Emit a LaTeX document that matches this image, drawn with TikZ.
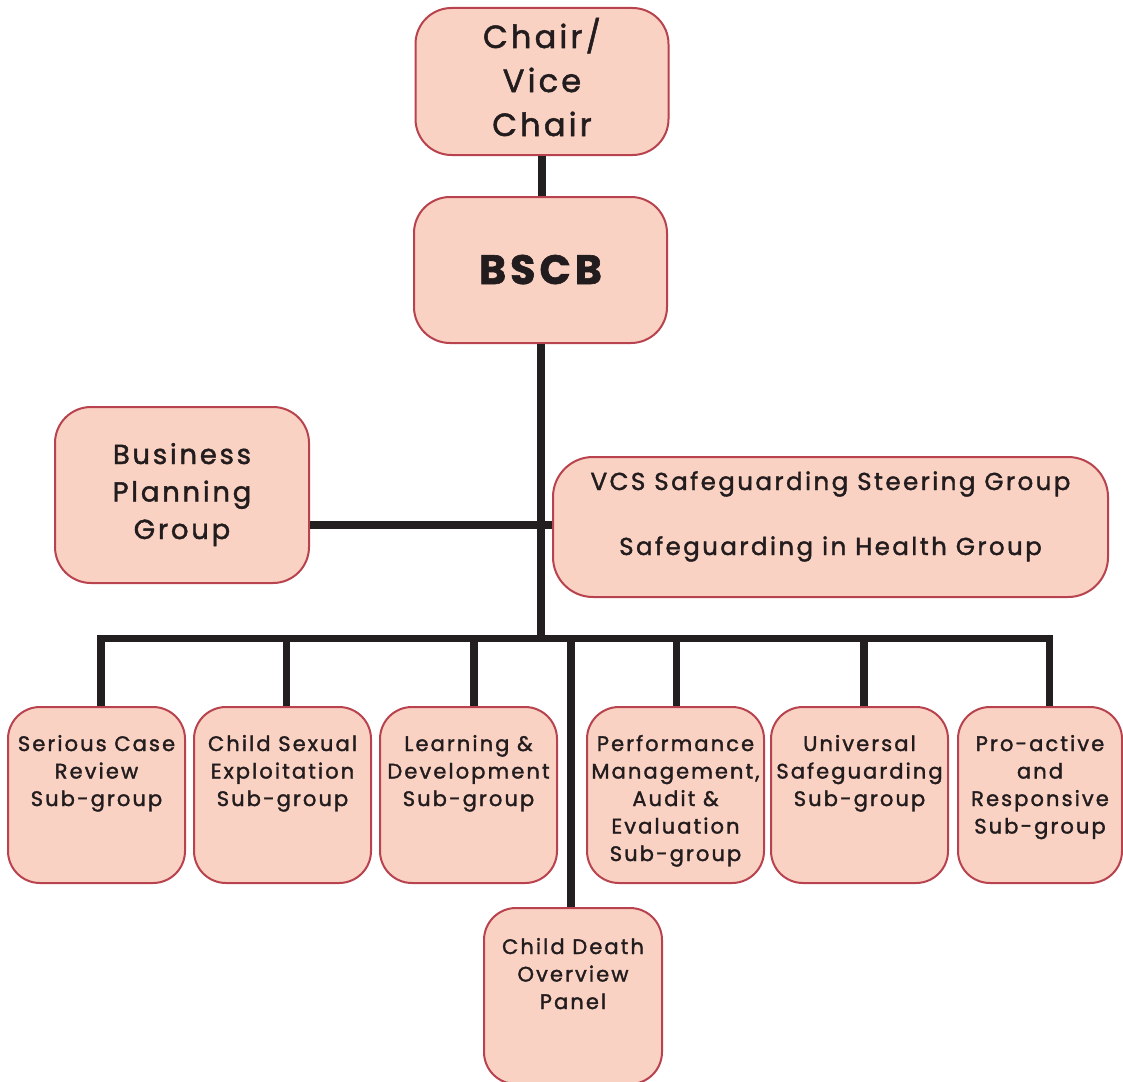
\documentclass[tikz,border=0pt]{standalone}
\usepackage{fontspec}
\setmainfont{Poppins}[LetterSpace=10,FakeBold=1.6]
\definecolor{boxfill}{RGB}{250,210,195}
\definecolor{boxline}{RGB}{184,66,78}
\definecolor{wirecol}{RGB}{35,31,32}
\definecolor{ink}{RGB}{34,28,30}

% text block of a box: width, height, first baseline, font size, line skip, lines
\newcommand\boxtext[6]{\parbox[c][#2][t]{#1}{\centering\fontsize{#4}{#5}\selectfont\rule{0pt}{#3}#6}}

\tikzset{
  orgbox/.style={draw=boxline, fill=boxfill, line width=2pt, rounded corners=#1,
                 inner sep=0pt, text=ink},
  orgbox/.default=34pt,
  wire/.style={draw=wirecol, line width=7.5pt, line join=miter}
}

\begin{document}
\begin{tikzpicture}[x=1pt,y=-1pt]
  \clip (0,0) rectangle (1123,1081);
  \fill[white] (0,0) rectangle (1123,1081);

  % top of the hierarchy
  \node[orgbox=36pt] (chair) at (542,81.5)
    {\boxtext{253pt}{147pt}{40pt}{32pt}{44pt}{Chair/\\Vice\\Chair}};
  \node[orgbox=36pt] (bscb) at (540.5,270)
    {\boxtext{253pt}{146pt}{87pt}{41pt}{44pt}{\bfseries BSCB}};

  % side groups
  \node[orgbox=36pt] (bpg) at (182,495)
    {\boxtext{254pt}{176pt}{57pt}{27.5pt}{37.5pt}{Business\\Planning\\Group}};
  \node[orgbox=40pt] (vcs) at (830.5,527)
    {\boxtext{555pt}{140pt}{33pt}{24.5pt}{65pt}{VCS Safeguarding Steering Group\\Safeguarding in Health Group}};

  % sub-groups
  \node[orgbox=32pt] (scr) at (96.5,795)
    {\boxtext{177pt}{176pt}{44pt}{21pt}{27.5pt}{Serious Case\\Review\\Sub-group}};
  \node[orgbox=32pt] (cse) at (282.5,795)
    {\boxtext{177pt}{176pt}{44pt}{21pt}{27.5pt}{Child Sexual\\Exploitation\\Sub-group}};
  \node[orgbox=32pt] (ld) at (468.5,795)
    {\boxtext{177pt}{176pt}{44pt}{21pt}{27.5pt}{Learning \&\\Development\\Sub-group}};
  \node[orgbox=32pt] (pma) at (675.5,795)
    {\boxtext{177pt}{176pt}{44pt}{21pt}{27.5pt}{Performance\\Management,\\Audit \&\\Evaluation\\Sub-group}};
  \node[orgbox=32pt] (us) at (859.5,795)
    {\boxtext{177pt}{176pt}{44pt}{21pt}{27.5pt}{Universal\\Safeguarding\\Sub-group}};
  \node[orgbox=32pt] (par) at (1040,795)
    {\boxtext{164pt}{176pt}{44pt}{21pt}{27.5pt}{Pro-active\\and\\Responsive\\Sub-group}};
  \node[orgbox=32pt] (cdop) at (573,996)
    {\boxtext{178pt}{176pt}{46pt}{21pt}{27.5pt}{Child Death\\Overview\\Panel}};

  % junction points
  \coordinate (hub) at (541,638.5);
  \coordinate (mid) at (541,525);
  \coordinate (t1) at (101,638.5);
  \coordinate (t2) at (286.5,638.5);
  \coordinate (t3) at (474,638.5);
  \coordinate (t4) at (571,638.5);
  \coordinate (t5) at (676.5,638.5);
  \coordinate (t6) at (864,638.5);
  \coordinate (t7) at (1049.5,638.5);

  % connectors
  \draw[wire] (chair.south) -- (chair.south |- bscb.north);
  \draw[wire] (bscb.south -| hub) -- (hub);
  \draw[wire] (bpg.east |- mid) -- (mid -| vcs.west);
  \draw[wire] (t1 |- scr.north) -- (t1) -- (t7) -- (t7 |- par.north);
  \draw[wire] (t2) -- (t2 |- cse.north);
  \draw[wire] (t3) -- (t3 |- ld.north);
  \draw[wire] (t4) -- (t4 |- cdop.north);
  \draw[wire] (t5) -- (t5 |- pma.north);
  \draw[wire] (t6) -- (t6 |- us.north);
\end{tikzpicture}
\end{document}
